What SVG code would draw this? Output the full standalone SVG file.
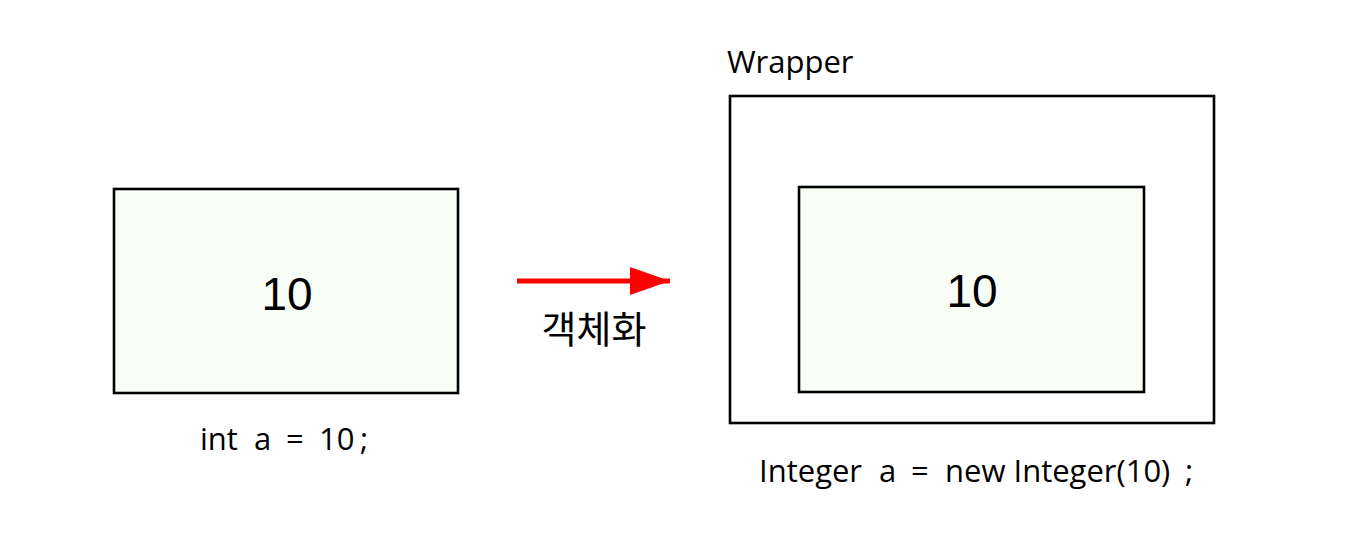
<svg xmlns="http://www.w3.org/2000/svg" width="1357" height="544" viewBox="0 0 1357 544">
<style>
.box{stroke:#000;stroke-width:2.6;}
.val{fill:#f8fdf6;}
.num{font-family:"Liberation Sans",Arial,sans-serif;font-size:46px;fill:#000;text-anchor:middle;}
.lbl{font-family:"Open Sans","Noto Sans","Noto Sans CJK KR",sans-serif;font-size:31px;fill:#000;}
.kr{font-family:"Noto Sans CJK KR","Noto Sans",sans-serif;font-size:38px;fill:#000;text-anchor:middle;}
</style>
<defs>
<marker id="ah" markerWidth="40" markerHeight="28" refX="40" refY="14" orient="auto" markerUnits="userSpaceOnUse">
<path d="M0,0 L40,14 L0,28 Z" fill="#ff0000"/>
</marker>
</defs>
<rect width="1357" height="544" fill="#fff"/>
<g id="primitive">
<rect class="box val" x="114" y="189" width="344" height="204"/>
<text class="num" x="287" y="310">10</text>
<text class="lbl" y="450"><tspan x="200">int</tspan><tspan x="254">a</tspan><tspan x="286">=</tspan><tspan x="319">10</tspan><tspan x="360">;</tspan></text>
</g>
<g id="wrapper">
<text class="lbl" x="727" y="73">Wrapper</text>
<rect class="box" x="730" y="96" width="484" height="327" fill="#fff"/>
<rect class="box val" x="799" y="187" width="345" height="205"/>
<text class="num" x="972" y="307">10</text>
<text class="lbl" y="482"><tspan x="759">Integer</tspan><tspan x="879">a</tspan><tspan x="911">=</tspan><tspan x="945">new Integer(10)</tspan><tspan x="1185">;</tspan></text>
</g>
<g id="connectors">
<line x1="517" y1="281" x2="670" y2="281" stroke="#ff0000" stroke-width="5" marker-end="url(#ah)"/>
<text class="kr" x="594" y="343">객체화</text>
</g>
</svg>
